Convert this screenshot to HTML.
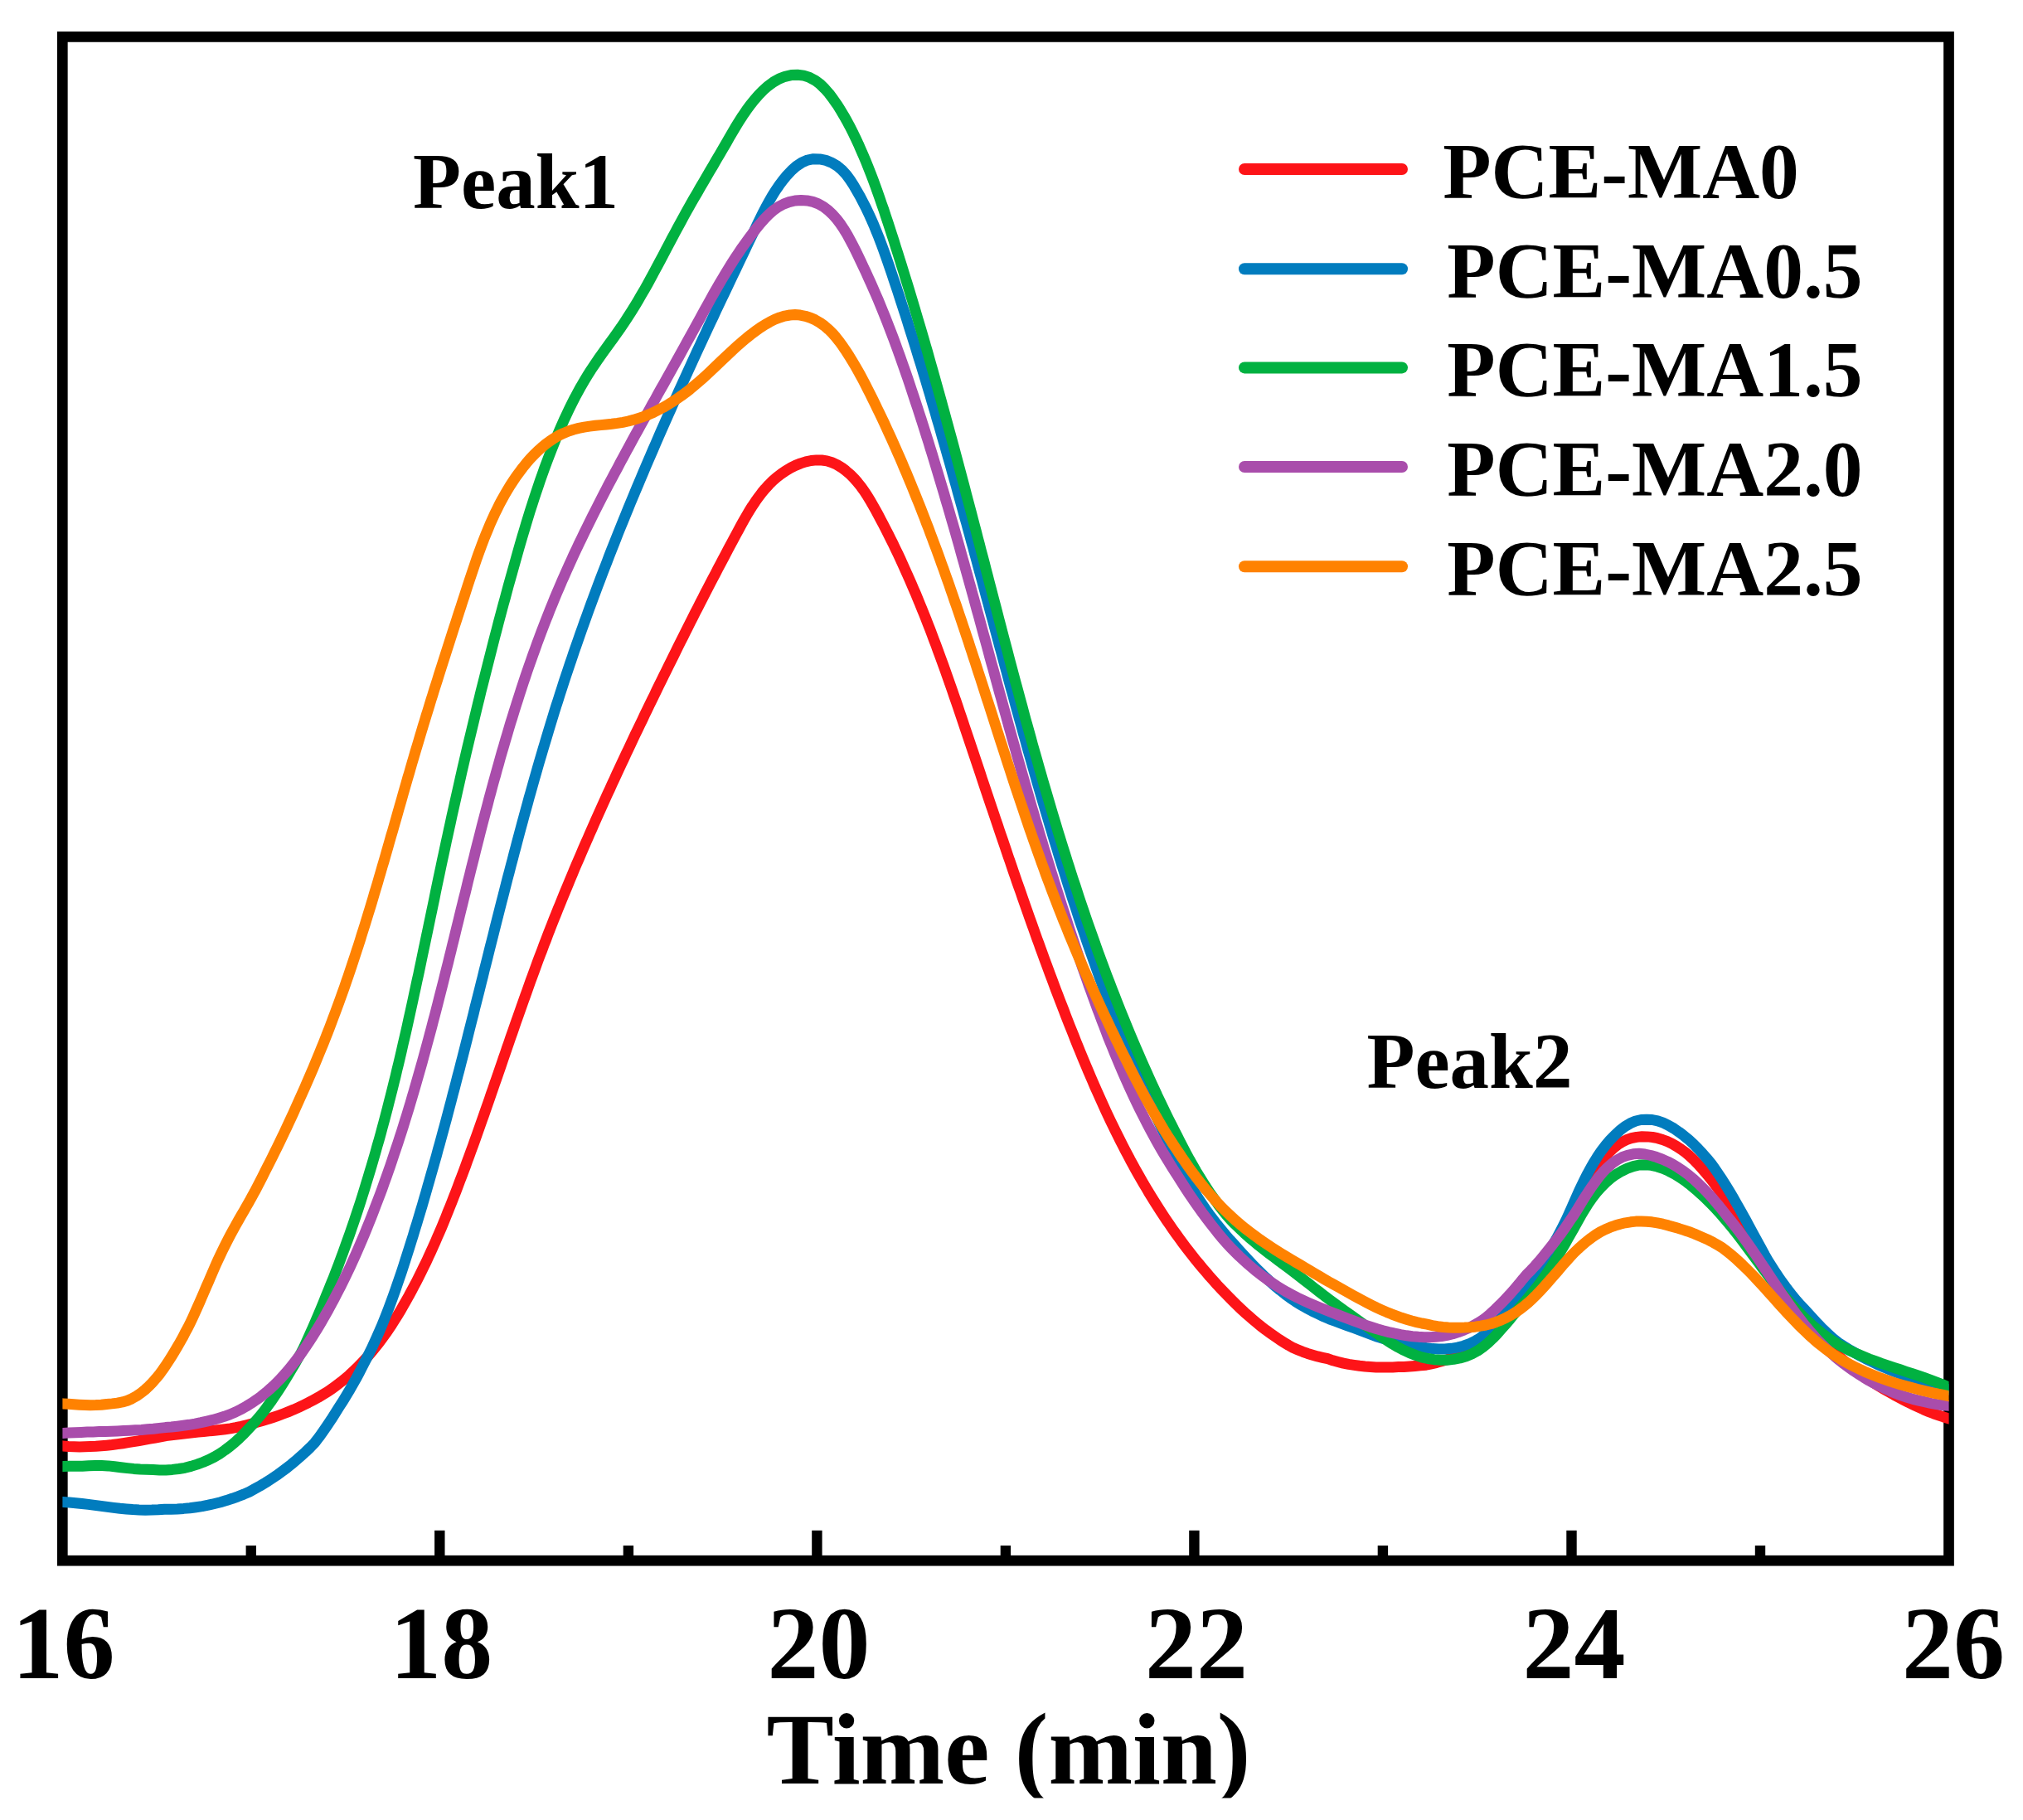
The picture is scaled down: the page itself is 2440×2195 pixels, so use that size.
<!DOCTYPE html>
<html><head><meta charset="utf-8"><title>GPC curves</title>
<style>
html,body{margin:0;padding:0;background:#fff;}
svg{display:block;}
text{font-family:"Liberation Serif","Times New Roman",serif;font-weight:bold;fill:#000;}
.curves path{fill:none;stroke-width:13;stroke-linecap:butt;stroke-linejoin:round;}
.leg line{stroke-width:14;stroke-linecap:round;}
.lt{font-size:95px;} .lg{font-size:95.5px;}
.tk{font-size:124px;text-anchor:middle;}
</style></head><body>
<svg width="2440" height="2195" viewBox="0 0 2440 2195">
<defs><clipPath id="cc"><rect x="75.4" y="40" width="2275.2" height="1845"/></clipPath><clipPath id="cb"><rect x="0" y="0" width="2440" height="2168.5"/></clipPath></defs>
<rect x="0" y="0" width="2440" height="2195" fill="#fff"/>
<rect x="75.3" y="44.4" width="2275.2" height="1837.8" fill="none" stroke="#000" stroke-width="12.7"/>
<g fill="#000">
<rect x="296.6" y="1864" width="12.4" height="13"/>
<rect x="524.1" y="1845.8" width="12.4" height="31"/>
<rect x="751.7" y="1864" width="12.4" height="13"/>
<rect x="979.2" y="1845.8" width="12.4" height="31"/>
<rect x="1206.7" y="1864" width="12.4" height="13"/>
<rect x="1434.2" y="1845.8" width="12.4" height="31"/>
<rect x="1661.7" y="1864" width="12.4" height="13"/>
<rect x="1889.3" y="1845.8" width="12.4" height="31"/>
<rect x="2116.8" y="1864" width="12.4" height="13"/>
</g>
<g class="curves" clip-path="url(#cc)"><path d="M56.0,1742.4 L76.0,1743.9 L82.6,1744.4 L89.2,1744.7 L95.9,1744.9 L102.5,1744.8 L109.0,1744.6 L115.6,1744.3 L122.2,1743.8 L128.7,1743.2 L135.2,1742.5 L141.8,1741.6 L148.3,1740.7 L154.8,1739.7 L161.3,1738.7 L167.8,1737.6 L174.3,1736.4 L180.8,1735.2 L187.3,1734.0 L193.8,1732.8 L200.2,1731.6 L206.7,1730.8 L213.2,1730.0 L219.7,1729.2 L226.1,1728.5 L232.6,1727.8 L239.1,1727.1 L245.6,1726.5 L252.1,1725.8 L258.5,1725.2 L265.0,1724.5 L271.5,1723.7 L277.9,1722.9 L284.4,1721.7 L290.8,1720.3 L297.3,1718.7 L303.7,1717.1 L310.1,1715.3 L316.5,1713.5 L322.9,1711.6 L329.2,1709.5 L335.5,1707.3 L341.8,1705.0 L348.0,1702.6 L354.1,1700.1 L360.2,1697.4 L366.2,1694.5 L372.1,1691.6 L378.0,1688.5 L383.8,1685.3 L389.5,1681.9 L395.1,1678.4 L400.6,1674.8 L406.0,1670.8 L411.3,1666.7 L416.5,1662.4 L421.6,1658.1 L426.5,1653.5 L431.3,1648.8 L436.0,1644.0 L440.5,1639.2 L445.0,1634.3 L449.2,1629.3 L453.4,1624.2 L457.5,1619.0 L461.4,1613.7 L465.3,1608.3 L469.0,1602.8 L472.7,1597.3 L476.3,1591.6 L479.8,1586.0 L483.2,1580.3 L486.5,1574.5 L489.8,1568.7 L493.1,1562.9 L496.2,1557.1 L499.3,1551.3 L502.4,1545.4 L505.4,1539.6 L508.3,1533.7 L511.2,1527.7 L514.1,1521.8 L516.8,1515.8 L519.6,1509.9 L522.3,1503.9 L525.0,1497.9 L527.6,1491.8 L530.2,1485.8 L532.8,1479.8 L535.3,1473.7 L537.8,1467.6 L540.2,1461.5 L542.7,1455.4 L545.1,1449.3 L547.5,1443.2 L549.9,1437.1 L552.2,1431.0 L554.5,1424.8 L556.9,1418.7 L559.2,1412.5 L561.5,1406.4 L563.7,1400.2 L566.0,1394.0 L568.2,1387.8 L570.5,1381.7 L572.7,1375.5 L574.9,1369.3 L577.1,1363.1 L579.3,1356.9 L581.5,1350.7 L583.7,1344.5 L585.8,1338.3 L588.0,1332.1 L590.2,1325.9 L592.3,1319.6 L594.5,1313.4 L596.6,1307.2 L598.8,1301.0 L600.9,1294.8 L603.1,1288.5 L605.2,1282.3 L607.3,1276.1 L609.5,1269.9 L611.6,1263.6 L613.8,1257.4 L615.9,1251.2 L618.1,1245.0 L620.3,1238.7 L622.4,1232.5 L624.6,1226.3 L626.8,1220.1 L629.0,1213.9 L631.2,1207.7 L633.4,1201.5 L635.6,1195.3 L637.8,1189.1 L640.0,1182.9 L642.3,1176.7 L644.6,1170.5 L646.8,1164.3 L649.1,1158.1 L651.4,1152.0 L653.8,1145.8 L656.1,1139.6 L658.5,1133.5 L660.8,1127.3 L663.2,1121.2 L665.6,1115.0 L668.0,1108.9 L670.5,1102.8 L672.9,1096.7 L675.4,1090.6 L677.9,1084.4 L680.4,1078.3 L682.9,1072.2 L685.4,1066.2 L687.9,1060.1 L690.5,1054.0 L693.0,1047.9 L695.6,1041.8 L698.2,1035.8 L700.8,1029.7 L703.4,1023.7 L706.0,1017.6 L708.7,1011.6 L711.3,1005.5 L714.0,999.5 L716.6,993.5 L719.3,987.4 L722.0,981.4 L724.7,975.4 L727.4,969.4 L730.1,963.4 L732.8,957.4 L735.6,951.4 L738.3,945.4 L741.1,939.5 L743.8,933.5 L746.6,927.5 L749.4,921.5 L752.2,915.6 L755.0,909.6 L757.8,903.7 L760.6,897.7 L763.4,891.8 L766.2,885.8 L769.1,879.9 L771.9,874.0 L774.8,868.1 L777.6,862.1 L780.5,856.2 L783.3,850.3 L786.2,844.4 L789.1,838.5 L791.9,832.6 L794.8,826.7 L797.7,820.8 L800.6,814.9 L803.5,809.1 L806.4,803.2 L809.3,797.3 L812.2,791.5 L815.1,785.6 L818.0,779.7 L820.9,773.9 L823.9,768.0 L826.8,762.2 L829.7,756.3 L832.7,750.4 L835.7,744.6 L838.6,738.7 L841.6,732.9 L844.6,727.0 L847.6,721.2 L850.6,715.3 L853.6,709.5 L856.7,703.6 L859.7,697.8 L862.8,691.9 L865.8,686.1 L868.9,680.2 L872.0,674.4 L875.1,668.5 L878.2,662.6 L881.3,656.8 L884.4,650.9 L887.6,645.0 L890.8,639.1 L894.0,633.2 L897.2,627.4 L900.5,621.6 L903.9,615.9 L907.4,610.3 L911.1,604.8 L914.9,599.5 L918.8,594.3 L923.0,589.3 L927.4,584.5 L932.0,579.9 L936.9,575.6 L942.1,571.6 L947.6,567.8 L953.4,564.4 L959.4,561.4 L965.6,558.9 L971.9,556.9 L978.3,555.5 L984.7,554.9 L991.1,555.0 L997.3,555.9 L1003.4,557.8 L1009.3,560.4 L1015.0,563.8 L1020.3,567.8 L1025.4,572.2 L1030.1,576.9 L1034.5,581.9 L1038.6,587.1 L1042.5,592.5 L1046.1,598.1 L1049.6,603.7 L1052.9,609.4 L1056.1,615.2 L1059.3,621.0 L1062.4,626.9 L1065.5,632.7 L1068.5,638.6 L1071.5,644.5 L1074.4,650.4 L1077.4,656.3 L1080.2,662.2 L1083.1,668.2 L1085.9,674.1 L1088.6,680.1 L1091.3,686.1 L1094.0,692.1 L1096.7,698.1 L1099.3,704.1 L1101.9,710.2 L1104.5,716.2 L1107.0,722.3 L1109.5,728.4 L1112.0,734.5 L1114.5,740.6 L1116.9,746.7 L1119.3,752.8 L1121.7,758.9 L1124.0,765.0 L1126.3,771.2 L1128.7,777.3 L1130.9,783.5 L1133.2,789.7 L1135.5,795.9 L1137.7,802.0 L1139.9,808.2 L1142.1,814.4 L1144.3,820.6 L1146.5,826.8 L1148.7,833.1 L1150.8,839.3 L1153.0,845.5 L1155.1,851.7 L1157.2,858.0 L1159.3,864.2 L1161.4,870.4 L1163.5,876.7 L1165.6,882.9 L1167.7,889.1 L1169.8,895.4 L1171.9,901.6 L1174.0,907.9 L1176.1,914.1 L1178.2,920.4 L1180.3,926.6 L1182.4,932.8 L1184.4,939.1 L1186.5,945.3 L1188.6,951.6 L1190.7,957.8 L1192.8,964.1 L1194.9,970.3 L1197.0,976.5 L1199.1,982.8 L1201.2,989.0 L1203.3,995.2 L1205.4,1001.5 L1207.5,1007.7 L1209.7,1014.0 L1211.8,1020.2 L1213.9,1026.4 L1216.0,1032.7 L1218.2,1038.9 L1220.3,1045.1 L1222.4,1051.3 L1224.6,1057.6 L1226.7,1063.8 L1228.9,1070.0 L1231.1,1076.2 L1233.2,1082.4 L1235.4,1088.7 L1237.6,1094.9 L1239.8,1101.1 L1242.0,1107.3 L1244.2,1113.5 L1246.4,1119.7 L1248.6,1125.9 L1250.8,1132.1 L1253.1,1138.3 L1255.3,1144.5 L1257.6,1150.7 L1259.8,1156.9 L1262.1,1163.0 L1264.4,1169.2 L1266.7,1175.4 L1269.0,1181.6 L1271.3,1187.7 L1273.6,1193.9 L1276.0,1200.1 L1278.3,1206.2 L1280.7,1212.4 L1283.1,1218.5 L1285.4,1224.7 L1287.8,1230.8 L1290.2,1237.0 L1292.7,1243.1 L1295.1,1249.2 L1297.5,1255.3 L1300.0,1261.5 L1302.5,1267.6 L1305.0,1273.7 L1307.5,1279.8 L1310.0,1285.8 L1312.6,1291.9 L1315.2,1298.0 L1317.8,1304.0 L1320.4,1310.1 L1323.1,1316.1 L1325.8,1322.1 L1328.5,1328.1 L1331.2,1334.1 L1333.9,1340.1 L1336.7,1346.0 L1339.5,1352.0 L1342.4,1357.9 L1345.3,1363.8 L1348.2,1369.7 L1351.1,1375.5 L1354.1,1381.4 L1357.1,1387.2 L1360.2,1393.0 L1363.2,1398.8 L1366.4,1404.6 L1369.5,1410.3 L1372.7,1416.0 L1376.0,1421.7 L1379.2,1427.4 L1382.6,1433.0 L1385.9,1438.6 L1389.3,1444.2 L1392.8,1449.8 L1396.3,1455.3 L1399.8,1460.8 L1403.4,1466.3 L1407.1,1471.8 L1410.8,1477.2 L1414.5,1482.6 L1418.3,1487.9 L1422.2,1493.3 L1426.1,1498.6 L1430.0,1503.8 L1434.0,1509.0 L1438.1,1514.2 L1442.2,1519.4 L1446.4,1524.5 L1450.6,1529.6 L1454.9,1534.6 L1459.2,1539.7 L1463.7,1544.6 L1468.1,1549.6 L1472.7,1554.5 L1477.3,1559.3 L1481.9,1564.1 L1486.7,1568.9 L1491.5,1573.6 L1496.3,1578.2 L1501.2,1582.8 L1506.2,1587.2 L1511.3,1591.6 L1516.4,1595.9 L1521.6,1600.1 L1526.8,1604.1 L1532.2,1608.0 L1537.6,1611.8 L1543.0,1615.5 L1548.5,1619.0 L1554.1,1622.4 L1559.8,1625.6 L1565.5,1628.0 L1571.3,1630.3 L1577.2,1632.4 L1583.2,1634.2 L1589.2,1635.9 L1595.2,1637.3 L1601.4,1638.7 L1607.6,1640.8 L1613.9,1642.5 L1620.3,1644.1 L1626.7,1645.4 L1633.2,1646.4 L1639.8,1647.3 L1646.4,1648.0 L1653.0,1648.5 L1659.7,1648.9 L1666.4,1649.0 L1673.1,1649.0 L1679.8,1648.9 L1686.6,1648.6 L1693.3,1648.4 L1700.0,1648.0 L1706.7,1647.5 L1713.4,1646.9 L1720.0,1646.2 L1726.5,1644.8 L1733.0,1643.3 L1739.4,1641.5 L1745.7,1639.6 L1751.8,1637.4 L1757.9,1635.0 L1763.8,1632.2 L1769.5,1629.0 L1775.1,1625.6 L1780.6,1622.0 L1785.9,1618.2 L1791.1,1614.1 L1796.2,1609.8 L1801.1,1605.4 L1805.9,1601.0 L1810.6,1596.5 L1815.2,1591.7 L1819.6,1586.9 L1823.9,1581.9 L1828.1,1576.7 L1832.2,1571.5 L1836.2,1566.2 L1840.0,1560.8 L1843.8,1555.3 L1847.4,1549.8 L1851.0,1544.2 L1854.4,1538.6 L1857.8,1533.0 L1861.0,1527.3 L1864.3,1521.6 L1867.4,1515.9 L1870.5,1510.2 L1873.5,1504.4 L1876.6,1498.6 L1879.6,1492.8 L1882.5,1487.0 L1885.5,1481.2 L1888.5,1475.3 L1891.5,1469.5 L1894.5,1463.6 L1897.6,1457.7 L1900.7,1451.8 L1903.9,1445.9 L1907.1,1440.1 L1910.4,1434.2 L1913.8,1428.3 L1917.2,1422.4 L1920.8,1416.5 L1924.5,1410.7 L1928.3,1405.0 L1932.4,1399.5 L1936.6,1394.3 L1941.0,1389.4 L1945.8,1384.9 L1950.8,1380.9 L1956.1,1377.5 L1961.7,1374.7 L1967.7,1372.7 L1974.0,1371.4 L1980.4,1370.8 L1986.8,1370.9 L1993.1,1371.5 L1999.2,1372.7 L2005.2,1374.5 L2011.0,1376.7 L2016.7,1379.4 L2022.1,1382.5 L2027.5,1386.0 L2032.7,1389.8 L2037.7,1393.9 L2042.6,1398.5 L2047.4,1403.4 L2052.1,1408.5 L2056.6,1413.8 L2061.1,1419.1 L2065.4,1424.5 L2069.6,1430.0 L2073.8,1435.5 L2077.8,1441.0 L2081.8,1446.6 L2085.6,1452.2 L2089.4,1457.9 L2093.2,1463.4 L2096.9,1469.0 L2100.5,1474.5 L2104.1,1480.1 L2107.6,1485.7 L2111.1,1491.4 L2114.6,1497.0 L2118.0,1502.6 L2121.5,1508.2 L2124.9,1513.9 L2128.3,1519.5 L2131.7,1525.1 L2135.1,1530.7 L2138.6,1536.3 L2142.0,1541.9 L2145.5,1547.4 L2149.0,1552.9 L2152.5,1558.3 L2156.1,1563.6 L2159.8,1568.9 L2163.4,1574.1 L2167.2,1579.3 L2171.0,1584.4 L2174.9,1589.4 L2178.8,1594.4 L2182.9,1599.3 L2187.0,1604.2 L2191.2,1608.9 L2195.5,1613.6 L2200.0,1618.2 L2204.5,1622.9 L2209.2,1627.6 L2213.9,1632.1 L2218.8,1636.5 L2223.8,1640.9 L2228.9,1645.1 L2234.1,1649.3 L2239.4,1653.3 L2244.8,1657.3 L2250.2,1661.2 L2255.7,1664.9 L2261.3,1668.6 L2267.0,1672.1 L2272.7,1675.6 L2278.5,1678.9 L2284.3,1682.2 L2290.1,1685.3 L2296.1,1688.4 L2302.0,1691.5 L2308.0,1694.4 L2314.0,1697.2 L2320.0,1699.9 L2326.0,1702.4 L2332.1,1704.8 L2338.1,1706.9 L2344.2,1708.9 L2350.2,1710.7 L2370.2,1716.9" stroke="#fd1418"/>
<path d="M56.0,1810.5 L76.0,1811.6 L83.7,1812.1 L91.3,1812.7 L99.0,1813.5 L106.6,1814.4 L114.2,1815.4 L121.9,1816.4 L129.5,1817.4 L137.1,1818.4 L144.8,1819.3 L152.4,1820.0 L160.1,1820.6 L167.7,1821.0 L175.4,1821.2 L183.1,1821.1 L190.8,1820.8 L198.5,1820.3 L206.2,1820.2 L213.8,1819.9 L221.5,1819.4 L229.0,1818.7 L236.5,1817.7 L244.0,1816.6 L251.4,1815.2 L258.7,1813.5 L265.9,1811.7 L273.1,1809.6 L280.1,1807.3 L287.1,1804.8 L294.0,1802.1 L300.7,1799.2 L307.4,1795.6 L314.0,1791.9 L320.5,1788.0 L326.9,1783.9 L333.2,1779.7 L339.3,1775.3 L345.4,1770.7 L351.4,1766.0 L357.2,1761.1 L362.9,1756.1 L368.6,1751.0 L374.1,1745.7 L379.4,1740.3 L384.7,1733.4 L389.8,1726.2 L394.8,1719.0 L399.7,1711.7 L404.4,1704.3 L409.0,1696.9 L413.5,1689.9 L417.8,1682.9 L422.0,1675.9 L426.0,1668.8 L430.0,1661.7 L433.8,1654.6 L437.5,1647.3 L441.0,1640.5 L444.5,1633.7 L447.9,1626.9 L451.1,1620.0 L454.3,1613.0 L457.4,1606.0 L460.4,1599.0 L463.3,1591.9 L466.1,1584.8 L468.9,1577.6 L471.6,1570.4 L474.2,1563.2 L476.8,1556.0 L479.3,1548.7 L481.8,1541.4 L484.3,1534.1 L486.7,1526.8 L489.0,1519.5 L491.4,1512.1 L493.7,1504.8 L496.0,1497.4 L498.3,1490.1 L500.5,1482.7 L502.8,1475.4 L505.0,1468.0 L507.2,1460.6 L509.4,1453.3 L511.5,1445.9 L513.7,1438.5 L515.8,1431.1 L517.9,1423.7 L520.0,1416.3 L522.1,1409.0 L524.2,1401.6 L526.3,1394.2 L528.3,1386.7 L530.4,1379.3 L532.4,1371.9 L534.4,1364.5 L536.4,1357.1 L538.4,1349.7 L540.4,1342.2 L542.3,1334.8 L544.3,1327.4 L546.2,1319.9 L548.2,1312.5 L550.1,1305.1 L552.0,1297.6 L554.0,1290.2 L555.9,1282.7 L557.8,1275.3 L559.7,1267.8 L561.6,1260.4 L563.5,1252.9 L565.3,1245.4 L567.2,1238.0 L569.1,1230.5 L571.0,1223.1 L572.8,1215.6 L574.7,1208.1 L576.6,1200.7 L578.5,1193.2 L580.3,1185.7 L582.2,1178.3 L584.0,1170.8 L585.9,1163.3 L587.8,1155.9 L589.6,1148.4 L591.5,1140.9 L593.4,1133.5 L595.3,1126.0 L597.1,1118.6 L599.0,1111.1 L600.9,1103.6 L602.8,1096.2 L604.7,1088.7 L606.6,1081.3 L608.5,1073.8 L610.4,1066.4 L612.3,1058.9 L614.3,1051.5 L616.2,1044.0 L618.2,1036.6 L620.1,1029.1 L622.1,1021.7 L624.0,1014.3 L626.0,1006.8 L628.0,999.4 L630.0,992.0 L632.0,984.6 L634.1,977.1 L636.1,969.7 L638.1,962.3 L640.2,954.9 L642.3,947.5 L644.4,940.1 L646.5,932.7 L648.6,925.3 L650.7,918.0 L652.9,910.6 L655.1,903.2 L657.3,895.8 L659.5,888.5 L661.7,881.1 L663.9,873.8 L666.2,866.4 L668.4,859.1 L670.7,851.8 L673.1,844.4 L675.4,837.1 L677.8,829.8 L680.1,822.5 L682.5,815.2 L685.0,807.9 L687.4,800.6 L689.9,793.4 L692.3,786.1 L694.9,778.8 L697.4,771.6 L699.9,764.3 L702.5,757.1 L705.1,749.8 L707.7,742.6 L710.3,735.4 L712.9,728.2 L715.6,721.0 L718.3,713.7 L721.0,706.5 L723.7,699.4 L726.4,692.2 L729.2,685.0 L732.0,677.8 L734.7,670.6 L737.5,663.5 L740.4,656.3 L743.2,649.2 L746.0,642.0 L748.9,634.9 L751.8,627.8 L754.7,620.6 L757.6,613.5 L760.5,606.4 L763.5,599.3 L766.4,592.2 L769.4,585.1 L772.4,578.0 L775.4,570.9 L778.4,563.8 L781.4,556.7 L784.5,549.7 L787.5,542.6 L790.6,535.5 L793.6,528.5 L796.7,521.4 L799.8,514.4 L802.9,507.3 L806.0,500.3 L809.2,493.3 L812.3,486.2 L815.5,479.2 L818.6,472.2 L821.8,465.2 L825.0,458.2 L828.2,451.2 L831.4,444.2 L834.6,437.2 L837.8,430.2 L841.0,423.2 L844.3,416.2 L847.5,409.2 L850.8,402.3 L854.0,395.3 L857.3,388.3 L860.6,381.4 L863.8,374.4 L867.1,367.5 L870.4,360.5 L873.7,353.6 L877.0,346.7 L880.3,339.7 L883.6,332.8 L886.9,325.9 L890.2,319.0 L893.5,312.0 L896.8,305.1 L900.1,298.2 L903.4,291.3 L906.7,284.4 L910.1,277.5 L913.4,270.6 L916.7,263.8 L920.1,256.9 L923.6,250.1 L927.3,243.4 L931.1,236.7 L935.2,230.1 L939.6,223.7 L944.3,217.4 L949.4,211.2 L954.9,205.4 L960.8,200.2 L967.2,196.0 L974.0,193.1 L981.2,191.7 L988.7,191.9 L996.1,193.4 L1003.2,196.2 L1009.7,200.1 L1015.5,205.0 L1020.7,210.6 L1025.3,216.9 L1029.6,223.5 L1033.5,230.2 L1037.4,237.0 L1041.0,243.9 L1044.5,250.8 L1047.8,257.8 L1051.0,264.8 L1054.1,271.9 L1057.0,279.0 L1059.9,286.1 L1062.6,293.3 L1065.3,300.5 L1067.9,307.7 L1070.4,314.9 L1072.9,322.2 L1075.4,329.5 L1077.8,336.8 L1080.3,344.0 L1082.7,351.3 L1085.1,358.6 L1087.4,365.9 L1089.8,373.2 L1092.2,380.5 L1094.5,387.8 L1096.8,395.2 L1099.1,402.5 L1101.4,409.8 L1103.7,417.1 L1106.0,424.5 L1108.2,431.8 L1110.5,439.1 L1112.7,446.5 L1115.0,453.8 L1117.2,461.2 L1119.4,468.5 L1121.6,475.9 L1123.7,483.3 L1125.9,490.6 L1128.1,498.0 L1130.2,505.4 L1132.4,512.7 L1134.5,520.1 L1136.6,527.5 L1138.8,534.9 L1140.9,542.3 L1143.0,549.7 L1145.1,557.0 L1147.2,564.4 L1149.2,571.8 L1151.3,579.2 L1153.4,586.6 L1155.4,594.0 L1157.5,601.5 L1159.6,608.9 L1161.6,616.3 L1163.6,623.7 L1165.7,631.1 L1167.7,638.5 L1169.7,645.9 L1171.7,653.4 L1173.8,660.8 L1175.8,668.2 L1177.8,675.6 L1179.8,683.1 L1181.8,690.5 L1183.8,697.9 L1185.8,705.3 L1187.8,712.8 L1189.8,720.2 L1191.8,727.6 L1193.8,735.1 L1195.8,742.5 L1197.8,749.9 L1199.8,757.4 L1201.8,764.8 L1203.8,772.3 L1205.8,779.7 L1207.8,787.1 L1209.8,794.6 L1211.8,802.0 L1213.8,809.4 L1215.8,816.9 L1217.8,824.3 L1219.8,831.7 L1221.9,839.1 L1223.9,846.6 L1225.9,854.0 L1228.0,861.4 L1230.0,868.8 L1232.1,876.3 L1234.1,883.7 L1236.2,891.1 L1238.2,898.5 L1240.3,905.9 L1242.4,913.3 L1244.5,920.7 L1246.6,928.1 L1248.7,935.5 L1250.8,942.9 L1253.0,950.3 L1255.1,957.7 L1257.2,965.1 L1259.4,972.5 L1261.6,979.9 L1263.8,987.2 L1266.0,994.6 L1268.2,1002.0 L1270.4,1009.3 L1272.6,1016.7 L1274.9,1024.0 L1277.1,1031.4 L1279.4,1038.7 L1281.7,1046.1 L1284.0,1053.4 L1286.3,1060.7 L1288.6,1068.1 L1291.0,1075.4 L1293.3,1082.7 L1295.7,1090.0 L1298.1,1097.3 L1300.5,1104.6 L1302.9,1111.9 L1305.4,1119.1 L1307.9,1126.4 L1310.3,1133.7 L1312.8,1140.9 L1315.4,1148.2 L1317.9,1155.4 L1320.5,1162.7 L1323.0,1169.9 L1325.6,1177.1 L1328.3,1184.3 L1330.9,1191.5 L1333.6,1198.7 L1336.3,1205.9 L1339.0,1213.1 L1341.7,1220.3 L1344.5,1227.5 L1347.2,1234.6 L1350.0,1241.8 L1352.9,1248.9 L1355.7,1256.0 L1358.6,1263.2 L1361.5,1270.3 L1364.4,1277.4 L1367.4,1284.5 L1370.4,1291.5 L1373.4,1298.6 L1376.4,1305.7 L1379.5,1312.7 L1382.5,1319.8 L1385.7,1326.8 L1388.8,1333.8 L1392.0,1340.8 L1395.2,1347.8 L1398.4,1354.8 L1401.7,1361.8 L1405.0,1368.8 L1408.3,1375.7 L1411.6,1382.7 L1415.0,1389.6 L1418.5,1396.5 L1422.0,1403.5 L1425.6,1410.5 L1429.2,1417.5 L1433.0,1424.4 L1436.9,1431.3 L1440.9,1438.1 L1445.0,1444.8 L1449.3,1451.4 L1453.8,1458.0 L1458.4,1464.4 L1463.2,1470.7 L1468.0,1476.9 L1473.1,1483.1 L1478.1,1489.2 L1483.3,1495.2 L1488.6,1501.0 L1493.8,1506.8 L1499.1,1512.6 L1504.5,1518.4 L1509.9,1524.1 L1515.3,1529.7 L1520.8,1535.2 L1526.4,1540.6 L1532.2,1545.9 L1538.0,1551.0 L1543.9,1556.0 L1549.9,1560.7 L1556.1,1565.3 L1562.5,1569.6 L1569.0,1573.6 L1575.6,1577.5 L1582.4,1581.1 L1589.4,1584.5 L1596.4,1587.8 L1603.5,1590.8 L1610.7,1593.5 L1617.9,1596.2 L1625.2,1598.9 L1632.5,1601.5 L1639.8,1604.2 L1647.1,1606.9 L1654.4,1609.6 L1661.6,1612.3 L1668.8,1614.5 L1676.0,1616.7 L1683.2,1618.8 L1690.4,1620.8 L1697.7,1622.5 L1705.0,1623.9 L1712.4,1625.0 L1719.9,1625.6 L1727.4,1626.6 L1735.1,1627.1 L1742.8,1627.0 L1750.4,1626.3 L1758.0,1625.1 L1765.3,1623.2 L1772.4,1620.6 L1779.1,1617.4 L1785.5,1613.5 L1791.5,1608.9 L1797.3,1603.6 L1802.8,1597.9 L1808.1,1592.0 L1813.2,1585.9 L1818.3,1579.8 L1823.2,1573.6 L1828.1,1567.3 L1832.8,1560.9 L1837.5,1554.6 L1842.0,1548.3 L1846.4,1542.4 L1850.7,1536.3 L1855.0,1530.2 L1859.1,1524.1 L1863.1,1517.9 L1867.0,1511.6 L1870.8,1505.2 L1874.5,1498.8 L1878.1,1492.4 L1881.6,1485.9 L1885.0,1479.3 L1888.3,1472.7 L1891.5,1465.8 L1894.7,1458.6 L1897.9,1451.3 L1901.1,1444.1 L1904.4,1436.8 L1907.8,1429.6 L1911.3,1422.4 L1914.9,1415.3 L1918.8,1408.2 L1922.9,1401.1 L1927.2,1394.1 L1931.8,1387.4 L1936.8,1381.0 L1942.1,1374.8 L1947.8,1368.9 L1953.7,1363.4 L1959.9,1358.6 L1966.3,1354.8 L1972.8,1352.0 L1979.4,1350.5 L1986.0,1350.2 L1992.7,1350.5 L1999.4,1351.9 L2006.0,1354.2 L2012.5,1357.3 L2018.9,1361.0 L2025.1,1365.3 L2031.2,1369.9 L2037.1,1374.8 L2042.8,1380.0 L2048.3,1385.6 L2053.5,1391.2 L2058.6,1397.0 L2063.5,1402.9 L2068.2,1409.4 L2072.8,1416.1 L2077.3,1422.9 L2081.6,1429.8 L2085.9,1436.7 L2090.0,1443.6 L2094.0,1450.6 L2098.0,1457.6 L2101.9,1464.6 L2105.8,1471.7 L2109.6,1478.8 L2113.4,1485.8 L2117.2,1492.9 L2121.1,1499.9 L2124.9,1506.9 L2128.7,1513.9 L2132.6,1520.7 L2136.6,1527.0 L2140.6,1533.2 L2144.7,1539.4 L2148.9,1545.4 L2153.2,1551.4 L2157.6,1557.2 L2162.1,1563.0 L2166.8,1568.6 L2171.6,1574.0 L2176.6,1579.3 L2181.8,1584.9 L2187.2,1590.9 L2192.8,1596.9 L2198.5,1602.7 L2204.5,1608.4 L2210.6,1614.0 L2216.9,1619.1 L2223.3,1623.3 L2229.8,1627.3 L2236.5,1631.2 L2243.3,1635.0 L2250.1,1638.6 L2257.1,1642.0 L2264.1,1645.3 L2271.2,1648.5 L2278.3,1651.5 L2285.5,1654.4 L2292.7,1657.2 L2299.9,1659.8 L2307.2,1662.4 L2314.4,1665.0 L2321.6,1667.4 L2328.7,1669.6 L2335.8,1671.8 L2342.9,1673.8 L2349.9,1675.7 L2369.9,1681.2" stroke="#017cbe"/>
<path d="M56.0,1769.7 L76.0,1768.6 L83.8,1768.2 L91.6,1768.3 L99.4,1768.2 L107.1,1767.7 L114.9,1767.6 L122.6,1767.6 L130.4,1767.9 L138.1,1768.8 L145.9,1769.7 L153.6,1770.6 L161.3,1771.4 L169.1,1771.9 L176.8,1772.2 L184.6,1772.6 L192.3,1773.0 L200.1,1772.9 L207.8,1772.4 L215.5,1771.5 L223.0,1770.3 L230.4,1768.4 L237.7,1766.1 L244.8,1763.5 L251.8,1760.5 L258.5,1757.1 L264.9,1753.3 L271.2,1749.0 L277.2,1744.5 L283.0,1739.7 L288.6,1734.6 L294.1,1729.3 L299.3,1723.8 L304.4,1718.4 L309.3,1712.8 L314.1,1707.1 L318.8,1701.3 L323.3,1695.2 L327.7,1689.1 L331.9,1682.9 L336.1,1676.6 L340.2,1670.2 L344.2,1663.8 L348.1,1657.4 L351.9,1651.0 L355.7,1644.6 L359.4,1638.1 L363.1,1631.7 L366.7,1624.6 L370.2,1617.0 L373.7,1609.3 L377.1,1601.7 L380.4,1594.0 L383.7,1586.3 L386.9,1578.7 L390.1,1571.0 L393.2,1563.3 L396.3,1555.7 L399.3,1548.3 L402.3,1540.8 L405.2,1533.3 L408.1,1525.8 L410.9,1518.3 L413.7,1510.8 L416.4,1503.3 L419.1,1495.7 L421.8,1488.2 L424.4,1480.7 L427.0,1473.1 L429.5,1465.6 L432.0,1458.1 L434.5,1450.5 L436.9,1442.9 L439.3,1435.3 L441.6,1427.7 L443.9,1420.1 L446.2,1412.5 L448.5,1404.9 L450.7,1397.3 L452.9,1389.7 L455.0,1382.1 L457.2,1374.6 L459.3,1367.0 L461.3,1359.4 L463.4,1351.8 L465.4,1344.1 L467.4,1336.5 L469.3,1328.9 L471.3,1321.2 L473.2,1313.6 L475.1,1305.9 L477.0,1298.3 L478.8,1290.6 L480.7,1282.9 L482.5,1275.2 L484.3,1267.6 L486.0,1259.9 L487.8,1252.2 L489.6,1244.5 L491.3,1236.8 L493.0,1229.0 L494.7,1221.3 L496.4,1213.6 L498.1,1205.9 L499.7,1198.2 L501.4,1190.5 L503.0,1182.9 L504.7,1175.3 L506.3,1167.6 L507.9,1160.0 L509.5,1152.3 L511.1,1144.7 L512.7,1137.1 L514.3,1129.4 L515.9,1121.8 L517.5,1114.1 L519.1,1106.5 L520.7,1098.9 L522.3,1091.2 L523.9,1083.6 L525.4,1076.0 L527.0,1068.3 L528.6,1060.7 L530.2,1053.1 L531.8,1045.5 L533.4,1037.9 L535.1,1030.2 L536.7,1022.6 L538.3,1015.0 L540.0,1007.4 L541.6,999.8 L543.3,992.3 L544.9,984.7 L546.6,977.1 L548.3,969.5 L550.0,962.0 L551.7,954.4 L553.4,946.8 L555.1,939.3 L556.8,931.7 L558.5,924.2 L560.3,916.6 L562.0,909.1 L563.8,901.5 L565.6,894.0 L567.4,886.5 L569.2,878.9 L571.0,871.4 L572.8,863.9 L574.6,856.4 L576.4,848.9 L578.3,841.3 L580.1,833.8 L582.0,826.3 L583.9,818.8 L585.8,811.3 L587.7,803.8 L589.6,796.3 L591.5,788.8 L593.4,781.3 L595.3,773.8 L597.3,766.2 L599.3,758.7 L601.2,751.2 L603.2,743.7 L605.2,736.2 L607.2,728.7 L609.3,721.2 L611.3,713.7 L613.3,706.2 L615.4,698.7 L617.5,691.2 L619.6,683.7 L621.7,676.2 L623.8,668.7 L625.9,661.2 L628.1,653.7 L630.3,646.2 L632.5,638.8 L634.7,631.3 L637.0,623.8 L639.3,616.4 L641.7,609.0 L644.1,601.6 L646.5,594.2 L649.0,586.8 L651.5,579.4 L654.1,572.1 L656.7,564.8 L659.4,557.5 L662.2,550.2 L665.0,543.0 L667.8,535.8 L670.7,528.6 L673.7,521.5 L676.8,514.4 L679.9,507.3 L683.2,500.3 L686.5,493.3 L689.9,486.4 L693.4,479.5 L697.1,472.7 L700.8,465.9 L704.7,459.2 L708.7,452.6 L712.9,446.0 L717.2,439.6 L721.6,433.1 L726.1,426.8 L730.6,420.4 L735.2,414.1 L739.8,407.8 L744.3,401.4 L748.8,395.1 L753.2,388.6 L757.4,382.1 L761.6,375.6 L765.7,369.0 L769.7,362.3 L773.6,355.6 L777.5,348.9 L781.3,342.2 L785.0,335.4 L788.7,328.5 L792.4,321.7 L796.0,314.9 L799.7,308.0 L803.3,301.1 L806.9,294.2 L810.5,287.4 L814.2,280.5 L817.9,273.6 L821.6,266.8 L825.3,260.0 L829.1,253.2 L832.9,246.4 L836.8,239.6 L840.7,232.9 L844.6,226.1 L848.5,219.4 L852.4,212.7 L856.3,206.0 L860.3,199.3 L864.2,192.6 L868.1,185.9 L872.0,179.2 L875.9,172.6 L879.7,165.9 L883.6,159.2 L887.5,152.6 L891.5,146.1 L895.7,139.6 L900.1,133.2 L904.7,126.9 L909.6,120.8 L914.8,114.8 L920.4,109.0 L926.4,103.7 L932.8,99.0 L939.6,95.1 L946.8,92.3 L954.3,90.6 L961.9,90.2 L969.4,91.1 L976.5,93.4 L983.1,96.9 L989.2,101.5 L994.8,107.0 L1000.1,113.0 L1004.9,119.4 L1009.5,125.9 L1013.7,132.6 L1017.7,139.3 L1021.5,146.0 L1025.2,152.9 L1028.6,159.7 L1032.0,166.7 L1035.3,173.7 L1038.4,180.8 L1041.5,187.9 L1044.5,195.0 L1047.4,202.2 L1050.2,209.4 L1053.0,216.7 L1055.7,224.0 L1058.3,231.3 L1060.9,238.6 L1063.4,246.0 L1066.0,253.3 L1068.4,260.7 L1070.9,268.1 L1073.3,275.5 L1075.7,282.9 L1078.1,290.3 L1080.4,297.8 L1082.8,305.2 L1085.1,312.6 L1087.4,320.0 L1089.7,327.4 L1092.0,334.9 L1094.3,342.3 L1096.6,349.7 L1098.8,357.2 L1101.1,364.6 L1103.3,372.1 L1105.5,379.5 L1107.7,387.0 L1109.9,394.4 L1112.1,401.9 L1114.3,409.3 L1116.4,416.8 L1118.6,424.2 L1120.7,431.7 L1122.8,439.2 L1124.9,446.6 L1127.0,454.1 L1129.1,461.6 L1131.2,469.0 L1133.3,476.5 L1135.4,484.0 L1137.4,491.5 L1139.5,499.0 L1141.5,506.4 L1143.6,513.9 L1145.6,521.4 L1147.7,528.9 L1149.7,536.4 L1151.7,543.9 L1153.7,551.4 L1155.7,558.9 L1157.7,566.4 L1159.7,573.9 L1161.7,581.4 L1163.7,588.9 L1165.6,596.4 L1167.6,603.9 L1169.6,611.4 L1171.6,618.9 L1173.5,626.4 L1175.5,633.9 L1177.5,641.4 L1179.4,649.0 L1181.4,656.5 L1183.3,664.0 L1185.3,671.5 L1187.3,679.0 L1189.2,686.6 L1191.2,694.1 L1193.1,701.6 L1195.1,709.1 L1197.0,716.7 L1199.0,724.2 L1201.0,731.7 L1202.9,739.2 L1204.9,746.8 L1206.9,754.3 L1208.8,761.8 L1210.8,769.3 L1212.8,776.9 L1214.8,784.4 L1216.7,791.9 L1218.7,799.4 L1220.7,807.0 L1222.7,814.5 L1224.7,822.0 L1226.8,829.5 L1228.8,837.0 L1230.8,844.5 L1232.9,852.1 L1234.9,859.6 L1236.9,867.1 L1239.0,874.6 L1241.1,882.1 L1243.2,889.6 L1245.2,897.1 L1247.3,904.6 L1249.5,912.0 L1251.6,919.5 L1253.7,927.0 L1255.9,934.5 L1258.0,942.0 L1260.2,949.4 L1262.4,956.9 L1264.6,964.4 L1266.8,971.8 L1269.0,979.3 L1271.2,986.7 L1273.5,994.1 L1275.7,1001.6 L1278.0,1009.0 L1280.3,1016.4 L1282.6,1023.8 L1285.0,1031.3 L1287.3,1038.7 L1289.7,1046.1 L1292.0,1053.5 L1294.4,1060.8 L1296.9,1068.2 L1299.3,1075.6 L1301.7,1083.0 L1304.2,1090.3 L1306.7,1097.7 L1309.2,1105.0 L1311.7,1112.3 L1314.3,1119.7 L1316.9,1127.0 L1319.5,1134.3 L1322.1,1141.6 L1324.7,1148.9 L1327.4,1156.2 L1330.1,1163.5 L1332.8,1170.7 L1335.5,1178.0 L1338.3,1185.2 L1341.1,1192.5 L1343.9,1199.7 L1346.7,1206.9 L1349.6,1214.1 L1352.4,1221.3 L1355.4,1228.5 L1358.3,1235.7 L1361.3,1242.9 L1364.2,1250.0 L1367.3,1257.2 L1370.3,1264.3 L1373.4,1271.4 L1376.5,1278.5 L1379.6,1285.6 L1382.8,1292.7 L1386.0,1299.8 L1389.2,1306.9 L1392.5,1313.9 L1395.7,1321.0 L1399.1,1328.0 L1402.4,1335.0 L1405.8,1342.0 L1409.2,1349.0 L1412.7,1356.0 L1416.2,1362.9 L1419.7,1369.8 L1423.3,1377.0 L1427.0,1384.1 L1430.8,1391.2 L1434.6,1398.3 L1438.6,1405.3 L1442.6,1412.3 L1446.8,1419.2 L1451.0,1426.0 L1455.4,1432.8 L1459.9,1439.5 L1464.6,1446.1 L1469.3,1452.7 L1474.2,1459.1 L1479.3,1465.5 L1484.4,1471.2 L1489.7,1476.6 L1495.2,1481.9 L1500.7,1487.1 L1506.4,1492.2 L1512.2,1497.1 L1518.0,1501.9 L1524.0,1506.6 L1530.0,1511.3 L1536.1,1515.9 L1542.2,1520.4 L1548.3,1524.9 L1554.5,1529.6 L1560.7,1534.3 L1566.9,1539.1 L1573.0,1543.9 L1579.2,1548.7 L1585.3,1553.5 L1591.5,1558.2 L1597.6,1563.0 L1603.8,1567.6 L1609.9,1572.2 L1616.1,1576.7 L1622.3,1581.2 L1628.5,1585.6 L1634.7,1590.1 L1641.0,1594.6 L1647.3,1599.0 L1653.7,1603.4 L1660.1,1607.8 L1666.5,1612.3 L1673.0,1616.7 L1679.6,1620.9 L1686.3,1624.8 L1693.2,1628.4 L1700.1,1631.6 L1707.3,1634.4 L1714.6,1636.8 L1722.0,1638.5 L1729.7,1639.7 L1737.5,1640.3 L1745.4,1640.2 L1753.2,1639.4 L1760.9,1637.9 L1768.4,1635.7 L1775.5,1632.7 L1782.3,1629.1 L1788.6,1624.7 L1794.6,1619.8 L1800.3,1614.4 L1805.8,1608.7 L1811.0,1602.8 L1816.2,1596.9 L1821.3,1591.0 L1826.2,1585.0 L1831.1,1579.1 L1835.9,1573.7 L1840.6,1568.2 L1845.3,1562.7 L1849.8,1557.2 L1854.3,1551.5 L1858.6,1545.8 L1862.9,1539.7 L1867.2,1533.5 L1871.3,1527.2 L1875.4,1520.8 L1879.4,1514.3 L1883.3,1507.6 L1887.2,1500.9 L1891.0,1494.1 L1894.9,1487.3 L1898.8,1480.5 L1902.7,1473.3 L1906.8,1466.0 L1911.1,1458.9 L1915.5,1451.9 L1920.2,1445.1 L1925.2,1438.6 L1930.6,1432.4 L1936.3,1426.6 L1942.4,1421.3 L1948.9,1416.6 L1955.8,1412.5 L1962.8,1409.2 L1970.0,1406.6 L1977.2,1405.0 L1984.5,1404.7 L1991.7,1405.4 L1998.8,1407.0 L2005.9,1409.3 L2012.9,1412.4 L2019.7,1416.0 L2026.5,1420.1 L2033.1,1424.7 L2039.5,1429.7 L2045.8,1434.9 L2051.8,1440.3 L2057.7,1445.9 L2063.3,1451.5 L2068.7,1457.1 L2074.0,1462.8 L2079.1,1468.6 L2084.1,1474.5 L2088.9,1480.3 L2093.6,1486.3 L2098.3,1492.3 L2102.9,1498.4 L2107.5,1504.5 L2112.0,1510.6 L2116.5,1516.8 L2121.1,1522.9 L2125.6,1529.1 L2130.2,1535.2 L2134.9,1541.4 L2139.7,1547.6 L2144.6,1553.7 L2149.5,1559.8 L2154.6,1565.9 L2159.8,1571.9 L2165.1,1577.8 L2170.5,1583.6 L2176.1,1589.3 L2181.8,1594.7 L2187.7,1600.0 L2193.7,1605.0 L2199.9,1609.8 L2206.2,1614.4 L2212.7,1618.6 L2219.4,1622.7 L2226.2,1626.4 L2233.2,1629.9 L2240.3,1633.1 L2247.4,1636.1 L2254.7,1639.0 L2262.0,1641.7 L2269.4,1644.4 L2276.8,1646.9 L2284.2,1649.4 L2291.7,1651.8 L2299.1,1654.3 L2306.6,1656.7 L2314.0,1659.2 L2321.3,1661.7 L2328.6,1664.3 L2335.8,1667.0 L2342.9,1669.8 L2349.9,1672.8 L2369.9,1681.2" stroke="#01b141"/>
<path d="M56.0,1729.4 L76.0,1728.4 L83.3,1728.0 L90.6,1727.7 L97.8,1727.4 L105.1,1727.1 L112.4,1726.9 L119.7,1726.6 L127.0,1726.4 L134.2,1726.2 L141.5,1725.9 L148.8,1725.6 L156.0,1725.2 L163.3,1724.8 L170.6,1724.4 L177.8,1723.8 L185.0,1723.2 L192.2,1722.4 L199.5,1721.6 L206.6,1721.0 L213.8,1720.2 L221.0,1719.3 L228.2,1718.3 L235.3,1717.1 L242.4,1715.7 L249.5,1714.1 L256.6,1712.4 L263.5,1710.4 L270.5,1708.3 L277.3,1705.9 L284.0,1703.0 L290.5,1699.7 L297.0,1696.1 L303.2,1692.3 L309.3,1688.2 L315.2,1683.9 L320.9,1679.3 L326.4,1674.5 L331.8,1669.5 L336.9,1664.3 L341.9,1658.9 L346.8,1653.4 L351.5,1647.7 L356.1,1641.9 L360.6,1636.0 L364.9,1630.0 L369.1,1623.9 L373.2,1617.7 L377.2,1611.4 L381.2,1605.1 L385.0,1598.8 L388.8,1592.4 L392.4,1586.0 L396.1,1579.5 L399.6,1573.0 L403.0,1566.6 L406.4,1560.1 L409.8,1553.6 L413.0,1547.1 L416.2,1540.6 L419.4,1534.0 L422.5,1527.4 L425.5,1520.8 L428.5,1514.2 L431.4,1507.6 L434.3,1500.9 L437.2,1494.2 L440.0,1487.5 L442.7,1480.8 L445.4,1474.1 L448.1,1467.3 L450.7,1460.6 L453.3,1453.8 L455.9,1447.0 L458.5,1440.2 L461.0,1433.4 L463.4,1426.6 L465.9,1419.8 L468.3,1412.9 L470.7,1406.1 L473.0,1399.2 L475.3,1392.3 L477.6,1385.4 L479.9,1378.6 L482.1,1371.7 L484.4,1364.7 L486.6,1357.8 L488.7,1350.9 L490.9,1343.9 L493.0,1337.0 L495.1,1330.0 L497.1,1323.1 L499.2,1316.1 L501.2,1309.1 L503.2,1302.1 L505.2,1295.1 L507.2,1288.1 L509.2,1281.1 L511.1,1274.1 L513.0,1267.1 L514.9,1260.1 L516.8,1253.1 L518.7,1246.0 L520.6,1239.0 L522.4,1231.9 L524.3,1224.9 L526.1,1217.8 L527.9,1210.8 L529.7,1203.7 L531.5,1196.6 L533.3,1189.6 L535.1,1182.5 L536.8,1175.4 L538.6,1168.4 L540.4,1161.3 L542.1,1154.2 L543.9,1147.1 L545.6,1140.0 L547.4,1132.9 L549.1,1125.9 L550.8,1118.8 L552.6,1111.7 L554.3,1104.6 L556.0,1097.5 L557.8,1090.4 L559.5,1083.3 L561.3,1076.3 L563.0,1069.2 L564.7,1062.1 L566.5,1055.0 L568.2,1047.9 L570.0,1040.8 L571.8,1033.8 L573.5,1026.7 L575.3,1019.6 L577.1,1012.6 L578.9,1005.5 L580.7,998.4 L582.5,991.4 L584.4,984.3 L586.2,977.3 L588.1,970.2 L589.9,963.2 L591.8,956.2 L593.7,949.1 L595.6,942.1 L597.6,935.1 L599.5,928.1 L601.5,921.1 L603.4,914.1 L605.4,907.1 L607.5,900.1 L609.5,893.1 L611.6,886.1 L613.6,879.2 L615.7,872.2 L617.9,865.3 L620.0,858.3 L622.2,851.4 L624.4,844.5 L626.6,837.6 L628.8,830.7 L631.1,823.8 L633.4,816.9 L635.7,810.0 L638.1,803.2 L640.5,796.3 L642.9,789.5 L645.4,782.7 L647.8,775.9 L650.4,769.0 L652.9,762.3 L655.5,755.5 L658.1,748.7 L660.8,742.0 L663.4,735.2 L666.2,728.5 L668.9,721.8 L671.7,715.1 L674.6,708.4 L677.4,701.7 L680.4,695.0 L683.3,688.4 L686.3,681.8 L689.3,675.1 L692.3,668.5 L695.4,661.9 L698.5,655.4 L701.7,648.8 L704.9,642.2 L708.1,635.7 L711.3,629.1 L714.5,622.6 L717.8,616.1 L721.1,609.6 L724.4,603.1 L727.8,596.6 L731.1,590.1 L734.5,583.6 L737.9,577.2 L741.3,570.7 L744.8,564.3 L748.2,557.8 L751.7,551.4 L755.1,545.0 L758.6,538.6 L762.1,532.1 L765.6,525.7 L769.2,519.3 L772.7,512.9 L776.2,506.6 L779.8,500.2 L783.3,493.8 L786.8,487.4 L790.4,481.1 L793.9,474.7 L797.5,468.3 L801.1,462.0 L804.6,455.6 L808.1,449.3 L811.7,442.9 L815.2,436.6 L818.8,430.2 L822.3,423.9 L825.8,417.5 L829.3,411.2 L832.8,404.9 L836.3,398.5 L839.8,392.2 L843.3,385.8 L846.7,379.5 L850.2,373.2 L853.7,366.9 L857.2,360.5 L860.7,354.3 L864.3,348.0 L867.9,341.7 L871.6,335.5 L875.3,329.3 L879.1,323.1 L882.9,317.0 L886.9,310.8 L890.9,304.8 L895.0,298.7 L899.3,292.7 L903.6,286.8 L908.1,280.9 L912.6,275.0 L917.4,269.2 L922.3,263.6 L927.5,258.4 L932.9,253.6 L938.8,249.5 L945.1,246.1 L951.8,243.6 L958.9,242.0 L966.2,241.5 L973.4,241.9 L980.5,243.4 L987.1,245.9 L993.3,249.4 L999.0,253.7 L1004.3,258.7 L1009.2,264.3 L1013.8,270.3 L1017.9,276.5 L1021.8,282.8 L1025.3,289.3 L1028.7,295.8 L1032.0,302.3 L1035.2,308.9 L1038.3,315.4 L1041.4,322.0 L1044.5,328.6 L1047.5,335.2 L1050.5,341.8 L1053.4,348.4 L1056.3,355.0 L1059.2,361.7 L1062.0,368.4 L1064.7,375.1 L1067.4,381.8 L1070.1,388.6 L1072.7,395.3 L1075.3,402.1 L1077.9,408.9 L1080.4,415.7 L1082.9,422.6 L1085.4,429.4 L1087.8,436.3 L1090.2,443.2 L1092.6,450.0 L1095.0,456.9 L1097.3,463.8 L1099.6,470.7 L1101.9,477.6 L1104.2,484.6 L1106.5,491.5 L1108.7,498.4 L1111.0,505.4 L1113.2,512.3 L1115.4,519.2 L1117.6,526.2 L1119.8,533.1 L1121.9,540.1 L1124.1,547.0 L1126.2,554.0 L1128.3,561.0 L1130.4,567.9 L1132.5,574.9 L1134.6,581.9 L1136.7,588.9 L1138.8,595.9 L1140.8,602.9 L1142.9,609.8 L1144.9,616.8 L1146.9,623.8 L1149.0,630.8 L1151.0,637.8 L1153.0,644.8 L1155.0,651.8 L1157.0,658.8 L1158.9,665.8 L1160.9,672.9 L1162.9,679.9 L1164.8,686.9 L1166.8,693.9 L1168.7,700.9 L1170.7,707.9 L1172.6,714.9 L1174.6,722.0 L1176.5,729.0 L1178.4,736.0 L1180.4,743.0 L1182.3,750.0 L1184.2,757.1 L1186.1,764.1 L1188.1,771.1 L1190.0,778.1 L1191.9,785.1 L1193.8,792.2 L1195.7,799.2 L1197.7,806.2 L1199.6,813.2 L1201.5,820.2 L1203.4,827.2 L1205.3,834.3 L1207.3,841.3 L1209.2,848.3 L1211.1,855.3 L1213.1,862.3 L1215.0,869.3 L1216.9,876.3 L1218.9,883.3 L1220.8,890.3 L1222.8,897.3 L1224.8,904.3 L1226.7,911.3 L1228.7,918.3 L1230.7,925.3 L1232.7,932.3 L1234.7,939.3 L1236.7,946.3 L1238.7,953.3 L1240.7,960.2 L1242.7,967.2 L1244.7,974.2 L1246.8,981.2 L1248.8,988.2 L1250.9,995.1 L1252.9,1002.1 L1255.0,1009.1 L1257.1,1016.0 L1259.2,1023.0 L1261.3,1029.9 L1263.4,1036.9 L1265.6,1043.8 L1267.7,1050.8 L1269.9,1057.7 L1272.0,1064.7 L1274.2,1071.6 L1276.4,1078.5 L1278.6,1085.5 L1280.8,1092.4 L1283.1,1099.3 L1285.3,1106.3 L1287.6,1113.2 L1289.8,1120.1 L1292.1,1127.0 L1294.4,1133.9 L1296.8,1140.8 L1299.1,1147.7 L1301.5,1154.6 L1303.9,1161.5 L1306.2,1168.4 L1308.7,1175.3 L1311.1,1182.1 L1313.5,1189.0 L1316.0,1195.9 L1318.5,1202.7 L1321.0,1209.6 L1323.5,1216.5 L1326.1,1223.3 L1328.6,1230.1 L1331.3,1237.0 L1333.9,1243.8 L1336.5,1250.6 L1339.2,1257.3 L1342.0,1264.1 L1344.7,1270.9 L1347.5,1277.6 L1350.4,1284.3 L1353.2,1291.0 L1356.1,1297.7 L1359.1,1304.4 L1362.1,1311.0 L1365.1,1317.6 L1368.2,1324.2 L1371.3,1330.8 L1374.5,1337.3 L1377.8,1343.8 L1381.1,1350.3 L1384.4,1356.7 L1387.8,1363.1 L1391.2,1369.5 L1394.7,1375.9 L1398.3,1382.2 L1401.9,1388.5 L1405.6,1394.7 L1409.4,1400.9 L1413.2,1407.1 L1417.1,1413.2 L1421.0,1419.3 L1425.1,1425.8 L1429.2,1432.1 L1433.3,1438.5 L1437.6,1444.7 L1441.9,1451.0 L1446.3,1457.2 L1450.7,1463.4 L1455.3,1469.5 L1459.9,1475.6 L1464.6,1481.6 L1469.4,1487.6 L1474.3,1493.5 L1479.3,1499.3 L1484.4,1504.7 L1489.5,1509.9 L1494.7,1515.0 L1500.1,1520.0 L1505.5,1524.9 L1511.0,1529.6 L1516.6,1534.2 L1522.3,1538.6 L1528.1,1542.9 L1534.0,1547.0 L1540.0,1551.0 L1546.1,1554.7 L1552.2,1558.3 L1558.5,1561.7 L1564.9,1565.0 L1571.4,1568.1 L1577.9,1571.1 L1584.5,1574.0 L1591.2,1576.8 L1598.0,1579.6 L1604.8,1582.3 L1611.6,1584.9 L1618.6,1587.6 L1625.5,1590.3 L1632.6,1592.9 L1639.6,1595.5 L1646.7,1598.1 L1653.8,1600.5 L1660.9,1602.8 L1668.0,1604.8 L1675.1,1606.6 L1682.3,1608.2 L1689.4,1609.6 L1696.5,1610.8 L1703.6,1611.7 L1710.7,1612.3 L1717.7,1612.7 L1724.7,1612.7 L1731.7,1612.2 L1738.6,1611.5 L1745.4,1610.3 L1752.2,1608.7 L1759.0,1606.6 L1765.6,1604.1 L1772.2,1601.2 L1778.7,1597.9 L1785.1,1594.1 L1791.3,1589.9 L1797.5,1584.6 L1803.6,1579.0 L1809.5,1573.2 L1815.3,1567.2 L1820.9,1561.2 L1826.4,1555.0 L1831.7,1548.8 L1836.9,1542.4 L1841.9,1536.6 L1846.7,1531.8 L1851.3,1526.9 L1855.7,1521.9 L1859.9,1516.9 L1864.0,1511.8 L1868.0,1506.9 L1871.8,1502.1 L1875.6,1497.3 L1879.3,1492.4 L1883.0,1487.5 L1886.7,1482.3 L1890.4,1476.8 L1894.2,1471.2 L1898.0,1465.7 L1901.8,1459.7 L1905.8,1453.1 L1909.9,1446.4 L1914.2,1439.8 L1918.6,1433.1 L1923.3,1426.5 L1928.1,1419.9 L1933.2,1413.8 L1938.6,1408.3 L1944.2,1403.3 L1950.1,1399.1 L1956.4,1395.7 L1963.0,1393.3 L1969.8,1391.8 L1976.9,1391.2 L1984.0,1392.0 L1991.1,1393.5 L1998.1,1395.6 L2004.9,1398.1 L2011.6,1401.1 L2018.1,1404.5 L2024.3,1408.3 L2030.4,1412.4 L2036.4,1416.9 L2042.1,1421.7 L2047.8,1426.8 L2053.2,1432.1 L2058.5,1437.5 L2063.7,1443.1 L2068.7,1448.9 L2073.6,1454.7 L2078.4,1460.7 L2083.1,1466.7 L2087.6,1472.4 L2092.1,1478.1 L2096.5,1483.8 L2100.8,1489.6 L2105.0,1495.4 L2109.2,1501.3 L2113.3,1507.2 L2117.4,1513.1 L2121.4,1519.1 L2125.4,1525.1 L2129.4,1531.0 L2133.4,1537.0 L2137.3,1543.0 L2141.3,1548.9 L2145.3,1554.9 L2149.3,1560.8 L2153.4,1566.6 L2157.5,1572.5 L2161.7,1578.3 L2165.9,1584.0 L2170.2,1589.7 L2174.5,1595.3 L2179.0,1600.8 L2183.5,1606.2 L2188.2,1611.6 L2192.9,1616.8 L2197.8,1621.8 L2202.9,1626.7 L2208.0,1631.5 L2213.3,1636.2 L2218.7,1640.7 L2224.3,1645.1 L2230.0,1649.3 L2235.8,1653.4 L2241.8,1657.3 L2247.8,1661.1 L2254.0,1664.8 L2260.3,1668.3 L2266.7,1671.5 L2273.2,1674.7 L2279.8,1677.7 L2286.5,1680.5 L2293.4,1683.1 L2300.3,1685.3 L2307.2,1687.4 L2314.3,1689.1 L2321.4,1690.7 L2328.7,1692.3 L2336.0,1693.6 L2343.3,1694.7 L2350.8,1695.4 L2370.8,1697.3" stroke="#a94dab"/>
<path d="M56.0,1691.5 L76.0,1692.9 L82.4,1693.3 L88.9,1693.8 L95.5,1694.2 L102.2,1694.5 L108.9,1694.7 L115.6,1694.6 L122.2,1694.3 L128.8,1693.5 L135.2,1692.9 L141.5,1692.1 L147.7,1690.9 L153.6,1689.2 L159.3,1686.7 L164.8,1683.6 L170.0,1680.0 L174.9,1676.1 L179.6,1671.8 L184.0,1667.2 L188.3,1662.3 L192.4,1657.3 L196.3,1652.0 L200.0,1646.6 L203.7,1641.0 L207.2,1635.5 L210.6,1629.9 L214.0,1624.2 L217.2,1618.6 L220.4,1612.9 L223.4,1607.1 L226.5,1601.4 L229.4,1595.6 L232.3,1589.5 L235.1,1583.3 L237.9,1577.0 L240.7,1570.8 L243.4,1564.5 L246.1,1558.2 L248.8,1551.9 L251.6,1545.6 L254.3,1539.3 L257.0,1533.0 L259.7,1526.7 L262.5,1520.5 L265.4,1514.4 L268.3,1508.3 L271.2,1502.3 L274.3,1496.2 L277.4,1490.2 L280.6,1484.3 L283.9,1478.4 L287.2,1472.5 L290.6,1466.6 L294.0,1460.8 L297.3,1454.9 L300.7,1449.0 L303.9,1443.1 L307.2,1437.2 L310.3,1431.2 L313.4,1425.2 L316.5,1419.2 L319.5,1413.2 L322.5,1407.3 L325.5,1401.4 L328.4,1395.6 L331.3,1389.7 L334.2,1383.8 L337.1,1377.9 L339.9,1371.9 L342.8,1366.0 L345.6,1360.1 L348.4,1354.1 L351.1,1348.2 L353.9,1342.2 L356.6,1336.2 L359.3,1330.2 L362.0,1324.2 L364.7,1318.2 L367.4,1312.2 L370.0,1306.2 L372.6,1300.2 L375.2,1294.1 L377.8,1288.1 L380.3,1282.0 L382.8,1276.0 L385.3,1269.9 L387.8,1263.8 L390.3,1257.7 L392.7,1251.6 L395.1,1245.5 L397.5,1239.4 L399.8,1233.3 L402.1,1227.1 L404.4,1221.0 L406.7,1214.8 L409.0,1208.6 L411.2,1202.4 L413.4,1196.3 L415.6,1190.1 L417.7,1183.9 L419.9,1177.6 L422.0,1171.4 L424.1,1165.2 L426.1,1159.0 L428.2,1152.7 L430.2,1146.5 L432.3,1140.2 L434.3,1134.0 L436.2,1127.7 L438.2,1121.4 L440.2,1115.1 L442.1,1108.9 L444.0,1102.6 L446.0,1096.3 L447.9,1090.0 L449.8,1083.7 L451.6,1077.4 L453.5,1071.1 L455.4,1064.8 L457.2,1058.5 L459.1,1052.1 L460.9,1045.8 L462.8,1039.5 L464.6,1033.2 L466.4,1026.9 L468.2,1020.6 L470.0,1014.2 L471.8,1007.9 L473.7,1001.6 L475.5,995.3 L477.3,988.9 L479.1,982.6 L480.9,976.3 L482.7,970.0 L484.5,963.7 L486.3,957.3 L488.1,951.0 L489.9,944.7 L491.7,938.4 L493.6,932.1 L495.4,925.8 L497.2,919.5 L499.1,913.2 L500.9,906.9 L502.8,900.6 L504.7,894.3 L506.5,888.1 L508.4,881.8 L510.3,875.5 L512.2,869.3 L514.1,863.0 L516.1,856.7 L518.0,850.5 L519.9,844.2 L521.9,838.0 L523.8,831.7 L525.8,825.5 L527.8,819.2 L529.7,813.0 L531.7,806.7 L533.7,800.5 L535.7,794.3 L537.7,788.0 L539.7,781.8 L541.7,775.5 L543.7,769.3 L545.7,763.0 L547.7,756.8 L549.8,750.5 L551.8,744.2 L553.8,738.0 L555.9,731.7 L557.9,725.4 L560.0,719.2 L562.0,712.9 L564.0,706.6 L566.1,700.3 L568.2,694.0 L570.3,687.7 L572.4,681.5 L574.5,675.2 L576.7,669.0 L579.0,662.8 L581.3,656.6 L583.6,650.4 L586.1,644.3 L588.6,638.2 L591.1,632.1 L593.8,626.1 L596.5,620.2 L599.4,614.3 L602.3,608.4 L605.4,602.6 L608.6,596.9 L611.9,591.2 L615.3,585.6 L618.9,580.1 L622.6,574.6 L626.5,569.3 L630.5,564.0 L634.7,558.8 L639.0,553.8 L643.5,549.0 L648.2,544.4 L653.0,540.0 L658.0,535.8 L663.2,532.0 L668.6,528.4 L674.1,525.2 L679.8,522.4 L685.7,520.0 L691.9,518.0 L698.1,516.4 L704.6,515.1 L711.1,514.1 L717.8,513.3 L724.5,512.6 L731.2,512.0 L737.9,511.3 L744.6,510.4 L751.2,509.3 L757.7,508.0 L764.0,506.4 L770.3,504.4 L776.5,502.3 L782.5,499.9 L788.5,497.2 L794.3,494.3 L800.1,491.3 L805.7,488.0 L811.3,484.5 L816.7,480.9 L822.0,477.2 L827.3,473.3 L832.4,469.3 L837.5,465.1 L842.4,460.9 L847.3,456.6 L852.1,452.2 L856.9,447.8 L861.6,443.3 L866.3,438.8 L871.0,434.3 L875.8,429.7 L880.6,425.2 L885.4,420.8 L890.3,416.3 L895.4,411.9 L900.5,407.6 L905.8,403.4 L911.3,399.3 L916.9,395.3 L922.6,391.6 L928.4,388.3 L934.4,385.3 L940.4,382.9 L946.5,381.1 L952.7,380.0 L958.9,379.6 L965.1,380.1 L971.3,381.3 L977.4,383.2 L983.2,385.8 L988.9,389.1 L994.2,392.9 L999.2,397.2 L1004.0,401.9 L1008.4,406.9 L1012.6,412.3 L1016.6,417.8 L1020.4,423.4 L1024.1,429.1 L1027.6,434.8 L1031.0,440.5 L1034.3,446.2 L1037.5,452.0 L1040.6,457.8 L1043.6,463.6 L1046.6,469.4 L1049.5,475.2 L1052.4,481.0 L1055.3,486.9 L1058.1,492.8 L1061.0,498.6 L1063.8,504.5 L1066.6,510.4 L1069.3,516.4 L1072.0,522.3 L1074.8,528.3 L1077.4,534.2 L1080.1,540.2 L1082.7,546.2 L1085.4,552.2 L1088.0,558.2 L1090.5,564.2 L1093.1,570.2 L1095.6,576.3 L1098.1,582.3 L1100.6,588.4 L1103.1,594.5 L1105.5,600.5 L1108.0,606.6 L1110.4,612.7 L1112.8,618.8 L1115.2,625.0 L1117.5,631.1 L1119.9,637.2 L1122.2,643.4 L1124.5,649.5 L1126.8,655.7 L1129.1,661.8 L1131.4,668.0 L1133.6,674.2 L1135.8,680.4 L1138.1,686.6 L1140.3,692.8 L1142.5,699.0 L1144.7,705.2 L1146.8,711.4 L1149.0,717.6 L1151.1,723.8 L1153.3,730.0 L1155.4,736.3 L1157.5,742.5 L1159.6,748.7 L1161.7,755.0 L1163.8,761.2 L1165.9,767.5 L1168.0,773.7 L1170.0,779.9 L1172.1,786.2 L1174.1,792.5 L1176.2,798.7 L1178.2,805.0 L1180.2,811.2 L1182.3,817.5 L1184.3,823.7 L1186.3,830.0 L1188.3,836.3 L1190.3,842.5 L1192.4,848.8 L1194.4,855.0 L1196.4,861.3 L1198.4,867.6 L1200.4,873.8 L1202.4,880.1 L1204.4,886.3 L1206.4,892.6 L1208.5,898.8 L1210.5,905.1 L1212.5,911.3 L1214.5,917.6 L1216.6,923.8 L1218.6,930.1 L1220.6,936.3 L1222.7,942.6 L1224.7,948.8 L1226.8,955.0 L1228.9,961.3 L1231.0,967.5 L1233.1,973.7 L1235.2,979.9 L1237.3,986.2 L1239.4,992.4 L1241.5,998.6 L1243.7,1004.8 L1245.8,1011.0 L1248.0,1017.2 L1250.2,1023.4 L1252.4,1029.5 L1254.6,1035.7 L1256.8,1041.9 L1259.1,1048.1 L1261.3,1054.2 L1263.6,1060.4 L1265.9,1066.5 L1268.2,1072.6 L1270.5,1078.8 L1272.9,1084.9 L1275.2,1091.0 L1277.6,1097.1 L1280.0,1103.2 L1282.4,1109.3 L1284.9,1115.4 L1287.4,1121.5 L1289.8,1127.6 L1292.3,1133.6 L1294.9,1139.7 L1297.4,1145.8 L1300.0,1151.8 L1302.5,1157.8 L1305.1,1163.9 L1307.7,1169.9 L1310.4,1175.9 L1313.0,1181.9 L1315.7,1187.9 L1318.4,1193.9 L1321.1,1199.9 L1323.8,1205.9 L1326.5,1211.9 L1329.3,1217.9 L1332.0,1223.9 L1334.8,1229.8 L1337.6,1235.8 L1340.4,1241.7 L1343.3,1247.7 L1346.1,1253.6 L1349.0,1259.5 L1351.8,1265.5 L1354.7,1271.4 L1357.7,1277.3 L1360.6,1283.2 L1363.5,1289.1 L1366.5,1295.0 L1369.5,1300.9 L1372.6,1306.7 L1375.6,1312.6 L1378.7,1318.4 L1381.8,1324.2 L1385.0,1329.9 L1388.2,1335.7 L1391.4,1341.4 L1394.7,1347.1 L1398.0,1352.8 L1401.3,1358.4 L1404.7,1364.0 L1408.2,1369.6 L1411.7,1375.1 L1415.3,1380.6 L1418.9,1386.0 L1422.6,1391.5 L1426.3,1397.1 L1430.1,1402.5 L1433.9,1408.0 L1437.8,1413.3 L1441.8,1418.7 L1445.9,1423.9 L1450.0,1429.2 L1454.2,1434.3 L1458.5,1439.4 L1462.9,1444.4 L1467.3,1449.4 L1471.9,1454.3 L1476.6,1459.0 L1481.4,1463.7 L1486.3,1468.3 L1491.3,1472.8 L1496.5,1477.2 L1501.7,1481.5 L1507.1,1485.7 L1512.6,1489.8 L1518.1,1493.8 L1523.6,1497.6 L1529.2,1501.4 L1534.8,1505.1 L1540.4,1508.7 L1546.0,1512.2 L1551.6,1515.6 L1557.3,1519.0 L1562.9,1522.4 L1568.6,1525.7 L1574.2,1529.1 L1579.9,1532.4 L1585.6,1535.8 L1591.3,1539.2 L1597.0,1542.6 L1602.7,1545.9 L1608.4,1549.0 L1614.1,1552.2 L1619.8,1555.4 L1625.6,1558.6 L1631.3,1561.8 L1637.1,1564.9 L1642.9,1568.1 L1648.8,1571.2 L1654.6,1574.2 L1660.5,1577.1 L1666.4,1579.8 L1672.4,1582.4 L1678.3,1584.8 L1684.4,1587.1 L1690.4,1589.3 L1696.5,1591.2 L1702.6,1593.0 L1708.8,1594.6 L1715.0,1596.0 L1721.3,1597.2 L1727.6,1598.6 L1734.0,1599.7 L1740.4,1600.5 L1746.9,1601.0 L1753.4,1601.2 L1759.9,1601.2 L1766.5,1601.1 L1773.0,1600.8 L1779.5,1600.2 L1786.0,1599.2 L1792.4,1598.0 L1798.6,1596.5 L1804.8,1594.3 L1810.9,1591.9 L1816.8,1589.1 L1822.6,1586.0 L1828.1,1582.6 L1833.5,1578.9 L1838.7,1574.9 L1843.6,1570.7 L1848.5,1566.2 L1853.2,1561.6 L1857.8,1556.8 L1862.3,1551.9 L1866.7,1546.9 L1871.2,1541.8 L1875.6,1536.7 L1880.0,1531.7 L1884.5,1526.3 L1889.1,1521.1 L1893.8,1515.9 L1898.5,1510.9 L1903.5,1506.1 L1908.6,1501.5 L1913.8,1497.1 L1919.2,1493.0 L1924.7,1489.1 L1930.4,1485.6 L1936.2,1482.7 L1942.1,1480.2 L1948.1,1478.1 L1954.2,1476.3 L1960.4,1474.8 L1966.7,1473.8 L1973.0,1473.1 L1979.5,1472.9 L1985.9,1473.2 L1992.5,1473.8 L1999.0,1474.9 L2005.5,1476.2 L2012.1,1477.9 L2018.5,1479.8 L2024.9,1481.6 L2031.3,1483.6 L2037.5,1485.7 L2043.6,1488.0 L2049.6,1490.6 L2055.4,1493.1 L2061.1,1495.7 L2066.6,1498.6 L2072.0,1501.7 L2077.3,1504.9 L2082.4,1508.7 L2087.4,1512.8 L2092.4,1517.0 L2097.2,1521.4 L2101.9,1525.8 L2106.6,1530.4 L2111.2,1535.0 L2115.8,1539.8 L2120.2,1544.5 L2124.7,1549.4 L2129.1,1554.2 L2133.5,1559.1 L2137.9,1564.0 L2142.3,1568.9 L2146.7,1573.8 L2151.1,1578.7 L2155.6,1583.6 L2160.1,1588.4 L2164.6,1593.1 L2169.1,1597.8 L2173.8,1602.4 L2178.5,1606.9 L2183.3,1611.4 L2188.1,1615.7 L2193.1,1619.9 L2198.2,1624.0 L2203.4,1628.0 L2208.7,1631.8 L2214.2,1635.5 L2219.7,1639.0 L2225.4,1642.3 L2231.2,1645.5 L2237.0,1648.5 L2243.0,1651.4 L2249.0,1654.2 L2255.1,1656.8 L2261.3,1659.3 L2267.5,1661.7 L2273.8,1663.9 L2280.1,1666.1 L2286.5,1668.1 L2292.8,1670.0 L2299.2,1671.7 L2305.6,1673.5 L2312.0,1675.3 L2318.4,1676.9 L2324.8,1678.4 L2331.2,1679.8 L2337.5,1681.2 L2343.8,1682.4 L2350.1,1683.6 L2370.1,1687.3" stroke="#ff8201"/></g>
<g class="leg">
<line x1="1501" y1="204" x2="1691" y2="204" stroke="#fd1418"/>
<text class="lt lg" x="1740.2" y="238.8">PCE-MA0</text>
<line x1="1501" y1="324.2" x2="1691" y2="324.2" stroke="#017cbe"/>
<text class="lt lg" x="1745.3" y="358.9">PCE-MA0.5</text>
<line x1="1501" y1="443.4" x2="1691" y2="443.4" stroke="#01b141"/>
<text class="lt lg" x="1745.3" y="478.1">PCE-MA1.5</text>
<line x1="1501" y1="563" x2="1691" y2="563" stroke="#a94dab"/>
<text class="lt lg" x="1745.3" y="598.2">PCE-MA2.0</text>
<line x1="1501" y1="683.2" x2="1691" y2="683.2" stroke="#ff8201"/>
<text class="lt lg" x="1745.3" y="717.9">PCE-MA2.5</text>
</g>
<text class="lt" x="498" y="250.9">Peak1</text>
<text class="lt" x="1648.4" y="1312.3">Peak2</text>
<text class="tk" x="76.4" y="2024">16</text>
<text class="tk" x="532.3" y="2024">18</text>
<text class="tk" x="987.4" y="2024">20</text>
<text class="tk" x="1442.9" y="2024">22</text>
<text class="tk" x="1898.5" y="2024">24</text>
<text class="tk" x="2356.0" y="2024">26</text>
<text class="tk" style="font-size:122px" x="1216.5" y="2150.9" clip-path="url(#cb)">Time (min)</text>
</svg></body></html>
